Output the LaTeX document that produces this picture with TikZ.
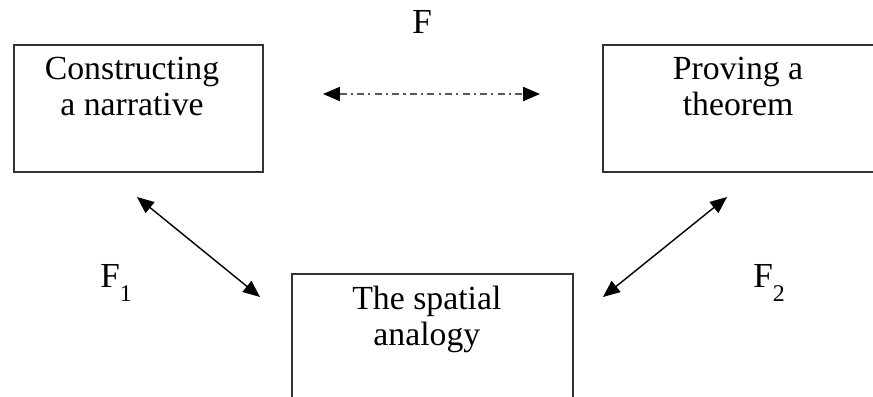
\documentclass[tikz,border=0pt]{standalone}
\usepackage{fontspec}
\setmainfont{Liberation Serif}
\usetikzlibrary{arrows.meta}
\usetikzlibrary{positioning}
\tikzset{
    arrow/.style={{Triangle[length=12pt,width=10pt,color=black]}-{Triangle[length=12pt,width=10pt,color=black]}, line width=1pt},
    dotarrow/.style={arrow, draw=black!65, line width=1.1pt, dash pattern=on 5pt off 3pt on 1.5pt off 3pt},
    box/.style = {
      draw=black!80,
      line width=1.3pt,
      rectangle,
      anchor=north west,
      minimum height=3.175cm
    },
    boxtext/.style = {
      align=center,
      anchor=base,
      inner sep=0pt,
      font=\fontsize{24}{25}\selectfont
    },
    flabel/.style = {anchor=base west, inner sep=0pt, font=\fontsize{25}{25}\selectfont},
}

\begin{document}
\begin{tikzpicture}[x=0.025cm, y=-0.025cm]
        \useasboundingbox (0,0) rectangle (873,396);
        \clip (0,0) rectangle (873,396);

        \node[box, minimum width=6.225cm] (nar) at (13,44) {};
        \node[box, minimum width=6.875cm] (thm) at (602,44) {};
        \node[box, minimum width=7.025cm, minimum height=3.675cm] (spa) at (291,273) {};

        \node[boxtext] (nartxt) at ([xshift=-0.16cm, yshift=-1.775cm]nar.north) {Constructing\\a narrative};
        \node[boxtext] (thmtxt) at ([xshift=-0.06cm, yshift=-1.775cm]thm.north) {Proving a\\theorem};
        \node[boxtext] (spatxt) at ([xshift=-0.14cm, yshift=-1.8cm]spa.north) {The spatial\\analogy};

        \node[flabel] (f) at (412,33) {F};
        \node[flabel] (f1) at (100,287) {F\raisebox{-10pt}{\fontsize{17}{17}\selectfont 1}};
        \node[flabel] (f2) at (753,287) {F\raisebox{-10pt}{\fontsize{17}{17}\selectfont 2}};

        \coordinate (d1) at (323,94);
        \coordinate (d2) at (540,94);
        \coordinate (l1) at (137,197);
        \coordinate (l2) at (260,297);
        \coordinate (r1) at (727,197);
        \coordinate (r2) at (603,297);

        \draw[dotarrow] (d1) -- (d2);
        \draw[arrow] (l1) -- (l2);
        \draw[arrow] (r1) -- (r2);
      \end{tikzpicture}
\end{document}
